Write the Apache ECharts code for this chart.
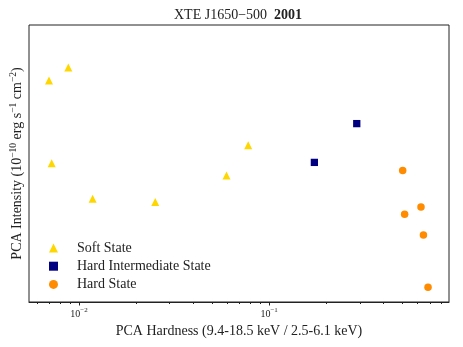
<!DOCTYPE html>
<html>
<head>
<meta charset="utf-8">
<script src="https://cdn.jsdelivr.net/npm/echarts@6/dist/echarts.min.js"></script>
<style>
html, body { margin: 0; padding: 0; background: #fff; }
#chart { width: 463px; height: 347px; }
</style>
</head>
<body>
<div id="chart"></div>
<script>
// hardness ratio (x) and intensity (y, arbitrary units)
const softHardness = [0.00879, 0.00696, 0.00719, 0.0118, 0.0252, 0.0776, 0.0597];
const softIntensity = [84.7, 80.0, 50.1, 37.3, 36.1, 56.6, 45.7];
const himsHardness = [0.289, 0.173];
const himsIntensity = [64.4, 50.4];
const hardHardness = [0.504, 0.629, 0.516, 0.648, 0.685];
const hardIntensity = [47.5, 34.3, 31.7, 24.2, 5.3];
const majorTicks = [0.01, 0.1];
const minorTicks = [0.006, 0.007, 0.008, 0.009,
    0.02, 0.03, 0.04, 0.05, 0.06, 0.07, 0.08, 0.09,
    0.2, 0.3, 0.4, 0.5, 0.6, 0.7, 0.8];

const serif = 'Liberation Serif';
const ink = '#222';

function pairs(xs, ys) {
    return xs.map((x, i) => [x, ys[i]]);
}

let myChart = echarts.init(document.getElementById('chart'));

const xMin = 0.005462, xMax = 0.883;

option = {
    animation: false,
    title: {
        text: '{n|XTE J1650\u2212500}{n|  }{b|2001}',
        left: 174,
        top: 8,
        padding: 0,
        textStyle: {
            fontWeight: 'normal',
            rich: {
                n: { fontFamily: serif, fontSize: 14, color: ink, fontWeight: 'normal' },
                b: { fontFamily: serif, fontSize: 14, color: ink, fontWeight: 'bold' }
            }
        }
    },
    legend: {
        orient: 'vertical',
        left: 44,
        top: 236,
        itemWidth: 9,
        itemHeight: 9,
        itemGap: 4.2,
        textStyle: { fontFamily: serif, fontSize: 14, color: ink, lineHeight: 14, padding: [0, 0, 0, 14] },
        data: [
            { name: 'Soft State', icon: 'triangle' },
            { name: 'Hard Intermediate State', icon: 'rect' },
            { name: 'Hard State', icon: 'circle' }
        ]
    },
    grid: {
        left: 29, right: 14, top: 25, bottom: 45,
        show: true,
        borderColor: ink,
        borderWidth: 1
    },
    xAxis: [{
        type: 'log',
        min: xMin,
        max: xMax,
        name: 'PCA Hardness (9.4-18.5 keV / 2.5-6.1 keV)',
        nameLocation: 'middle',
        nameGap: 15,
        nameTextStyle: { fontFamily: serif, fontSize: 14, color: ink },
        axisLine: { show: true, lineStyle: { color: ink } },
        axisTick: { show: true, customValues: majorTicks, length: 3.5, lineStyle: { color: ink } },
        axisLabel: {
            customValues: majorTicks,
            margin: 5,
            formatter: function(v) {
                const e = Math.round(Math.log10(v));
                return '{m|10}{s|\u2212' + Math.abs(e) + '}';
            },
            rich: {
                m: { fontFamily: serif, fontSize: 10, color: ink },
                s: { fontFamily: serif, fontSize: 7, color: ink, padding: [0, 0, 7, 0] }
            }
        },
        splitLine: { show: false }
    }, {
        type: 'log',
        min: xMin,
        max: xMax,
        position: 'bottom',
        axisLine: { show: false },
        axisTick: { show: true, customValues: minorTicks, length: 2, lineStyle: { color: ink } },
        axisLabel: { show: false },
        splitLine: { show: false }
    }],
    yAxis: {
        type: 'value',
        min: 0,
        max: 100,
        name: '{t|PCA Intensity (10}{s|\u221210}{t| erg s}{s|\u22121}{t| cm}{s|\u22122}{t|)}',
        nameLocation: 'middle',
        nameGap: 3,
        nameTextStyle: {
            rich: {
                t: { fontFamily: serif, fontSize: 14, color: ink },
                s: { fontFamily: serif, fontSize: 9.5, color: ink, padding: [0, 0, 8, 0] }
            }
        },
        axisLine: { show: false },
        axisTick: { show: false },
        axisLabel: { show: false },
        splitLine: { show: false }
    },
    series: [{
        name: 'Soft State',
        type: 'scatter',
        symbol: 'triangle',
        symbolSize: 8,
        itemStyle: { color: '#FFD700', opacity: 1 },
        data: pairs(softHardness, softIntensity)
    }, {
        name: 'Hard Intermediate State',
        type: 'scatter',
        symbol: 'rect',
        symbolSize: 7.3,
        itemStyle: { color: '#000080', opacity: 1 },
        data: pairs(himsHardness, himsIntensity)
    }, {
        name: 'Hard State',
        type: 'scatter',
        symbol: 'circle',
        symbolSize: 7.5,
        itemStyle: { color: '#FF8C00', opacity: 1 },
        data: pairs(hardHardness, hardIntensity)
    }]
};

myChart.setOption(option);
</script>
</body>
</html>
